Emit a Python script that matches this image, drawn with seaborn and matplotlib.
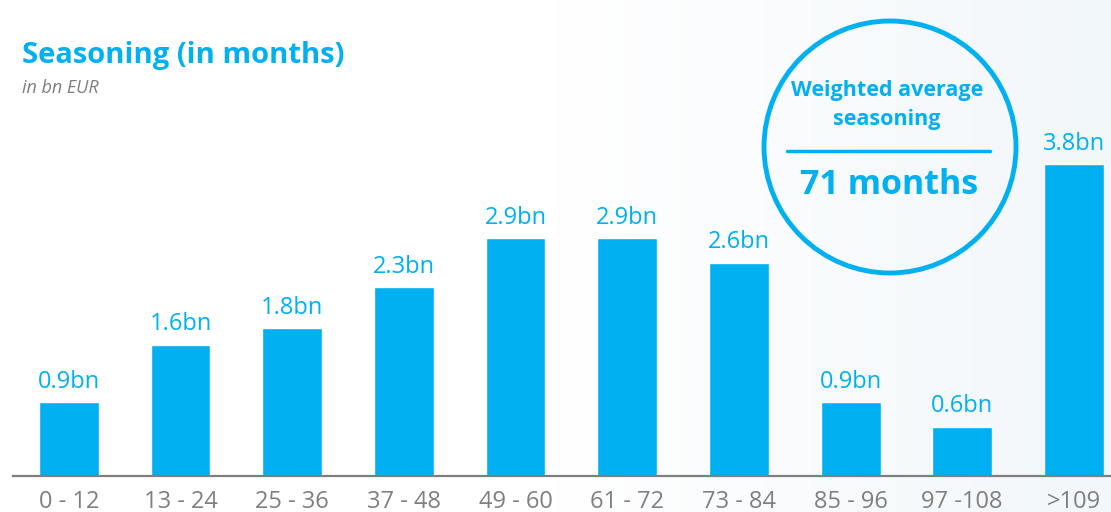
import numpy as np
import pandas as pd
import matplotlib
matplotlib.use("Agg")
import matplotlib.pyplot as plt
from matplotlib.patches import Ellipse
from matplotlib.lines import Line2D
from matplotlib.colors import LinearSegmentedColormap
import seaborn as sns

categories = ["0 - 12", "13 - 24", "25 - 36", "37 - 48", "49 - 60",
              "61 - 72", "73 - 84", "85 - 96", "97 -108", ">109"]
values = [0.9, 1.6, 1.8, 2.3, 2.9, 2.9, 2.6, 0.9, 0.6, 3.8]
labels = ["0.9bn", "1.6bn", "1.8bn", "2.3bn", "2.9bn", "2.9bn", "2.6bn", "0.9bn", "0.6bn", "3.8bn"]
title = "Seasoning (in months)"
subtitle = "in bn EUR"
badge_top = "Weighted average\nseasoning"
badge_value = "71 months"

BLUE = "#00B0F0"
GREY = "#7F7F7F"

sns.set_theme(style="white")
plt.rcParams["font.family"] = ["Open Sans", "DejaVu Sans"]

W, H = 1111, 512
fig = plt.figure(figsize=(W / 100, H / 100), dpi=100)

# subtle background gradient
bg = fig.add_axes([0, 0, 1, 1], zorder=-10)
grad = np.repeat(np.linspace(0, 1, 256)[None, :], 2, axis=0)
cmap = LinearSegmentedColormap.from_list("bg", ["#FFFFFF", "#FFFFFF", "#F2F7FA"])
bg.imshow(grad, aspect="auto", cmap=cmap, extent=[0, 1, 0, 1])
bg.axis("off")

df = pd.DataFrame({"cat": categories, "val": values})
ax = fig.add_axes([13 / W, 36 / H, (W - 13) / W, 410 / H])
ax.set_facecolor("none")
sns.barplot(data=df, x="cat", y="val", color=BLUE, saturation=1, width=0.537, ax=ax)
ax.set_xlim(-0.5, -0.5 + (W - 13) / 111.67)
ax.set_ylim(0, 5.0)

for i, (v, lab) in enumerate(zip(values, labels)):
    ax.annotate(lab, (i, v), xytext=(0, 6), textcoords="offset points",
                ha="center", va="bottom", color=BLUE, fontsize=17)

for s in ["top", "right", "left"]:
    ax.spines[s].set_visible(False)
ax.spines["bottom"].set_color(GREY)
ax.spines["bottom"].set_linewidth(1.6)
ax.set_yticks([])
ax.set_xlabel("")
ax.set_ylabel("")
ax.tick_params(axis="x", length=0, pad=10, labelsize=17, labelcolor=GREY)

fig.text(22 / W, 1 - 56 / H, title, color=BLUE, fontsize=21, fontweight="bold",
         ha="left", va="center")
fig.text(22 / W, 1 - 88 / H, subtitle, color=GREY, fontsize=13, style="italic",
         ha="left", va="center")

# badge
cx, cy, r = 890, 147, 126
fig.patches.append(Ellipse((cx / W, 1 - cy / H), 2 * r / W, 2 * r / H,
                           transform=fig.transFigure, fill=False, edgecolor=BLUE,
                           linewidth=3.5))
fig.text(887 / W, 1 - 105 / H, badge_top, color=BLUE, fontsize=15.5, fontweight="bold",
         ha="center", va="center", linespacing=1.5)
fig.lines.append(Line2D([787 / W, 990 / W], [1 - 151 / H, 1 - 151 / H],
                        transform=fig.transFigure, color=BLUE, linewidth=2.5))
fig.text(889 / W, 1 - 185 / H, badge_value, color=BLUE, fontsize=24.5, fontweight="bold",
         ha="center", va="center")

fig.savefig("out.png", dpi=100)
